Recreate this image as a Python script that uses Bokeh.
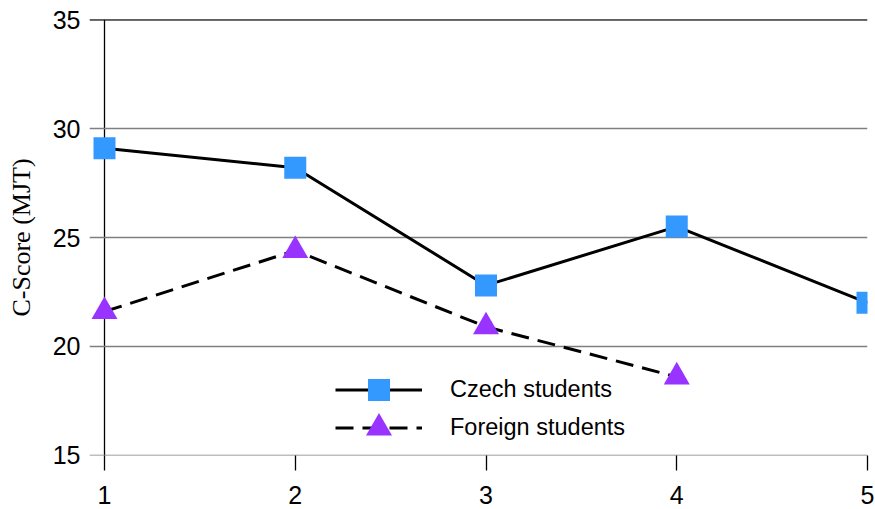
from bokeh.plotting import figure
from bokeh.models import Legend, LegendItem, FixedTicker, Span
from bokeh.embed import file_html
from bokeh.resources import INLINE

# ---- data ----
sessions = [1, 2, 3, 4, 5]
czech_scores = [29.1, 28.2, 22.8, 25.5, 22.0]
foreign_sessions = [1, 2, 3, 4]
foreign_scores = [21.6, 24.4, 20.9, 18.6]
y_ticks = [15, 20, 25, 30, 35]
x_ticks = [1, 2, 3, 4, 5]
y_label = "C-Score (MJT)"
series_names = ["Czech students", "Foreign students"]

SANS = "Liberation Sans"
SERIF = "Liberation Serif"

# frame starts 15px left of x=1 so that gridlines show the outside tick marks
px_per_unit = (867 - 104) / (x_ticks[-1] - x_ticks[0])
x_start = x_ticks[0] - 15 / px_per_unit

p = figure(width=875, height=509, x_range=(x_start, x_ticks[-1]),
           y_range=(14.99, 35.01),
           output_backend="svg", toolbar_location=None,
           min_border_left=89, min_border_right=8,
           min_border_top=19, min_border_bottom=54)
p.outline_line_color = None
p.background_fill_color = "white"
p.border_fill_color = "white"

# grids: horizontal grey lines, one black vertical line at the first session
p.ygrid.grid_line_color = "#7f7f7f"
p.ygrid.grid_line_width = 1.3
p.ygrid.ticker = FixedTicker(ticks=y_ticks)
p.xgrid.ticker = FixedTicker(ticks=x_ticks[:1])
p.xgrid.grid_line_color = "black"
p.xgrid.grid_line_width = 1.3

top_line = Span(location=y_ticks[-1], dimension="width", line_color="black",
                line_width=1.5)
p.add_layout(top_line)

# y axis
ya = p.yaxis[0]
ya.ticker = FixedTicker(ticks=y_ticks)
ya.axis_line_color = None
ya.major_tick_line_color = None
ya.major_tick_out = 0
ya.major_tick_in = 0
ya.minor_tick_line_color = None
ya.major_label_text_font = SANS
ya.major_label_text_font_size = "25px"
ya.major_label_text_color = "black"
ya.major_label_standoff = 9
ya.axis_label = y_label
ya.axis_label_text_font = SERIF
ya.axis_label_text_font_size = "26px"
ya.axis_label_text_font_style = "normal"
ya.axis_label_text_color = "black"
ya.axis_label_standoff = 14

# x axis
xa = p.xaxis[0]
xa.ticker = FixedTicker(ticks=x_ticks)
xa.axis_line_color = None
xa.major_tick_line_color = "black"
xa.major_tick_line_width = 1.3
xa.major_tick_out = 15
xa.major_tick_in = 0
xa.minor_tick_line_color = None
xa.major_label_text_font = SANS
xa.major_label_text_font_size = "25px"
xa.major_label_text_color = "black"
xa.major_label_standoff = 15

# series
l1 = p.line(sessions, czech_scores, line_color="black", line_width=3)
s1 = p.scatter(sessions, czech_scores, marker="square", size=22,
               fill_color="#3399ff", line_color=None)
l2 = p.line(foreign_sessions, foreign_scores, line_color="black", line_width=3,
            line_dash="18 9")
s2 = p.scatter(foreign_sessions, foreign_scores, marker="triangle", size=26,
               fill_color="#9933ff", line_color=None)

common = dict(orientation="vertical", glyph_width=87, label_standoff=28,
              padding=0, margin=0, border_line_color=None,
              background_fill_alpha=0, label_text_font=SANS,
              label_text_font_size="23.5px", label_text_color="black",
              label_text_baseline="middle")
leg1 = Legend(items=[LegendItem(label=series_names[0], renderers=[l1, s1])],
              location=(246, 38), glyph_height=55, **common)
leg2 = Legend(items=[LegendItem(label=series_names[1], renderers=[l2, s2])],
              location=(246, -5), glyph_height=65, **common)
p.add_layout(leg1)
p.add_layout(leg2)

open("out.html", "w").write(file_html(p, INLINE))
